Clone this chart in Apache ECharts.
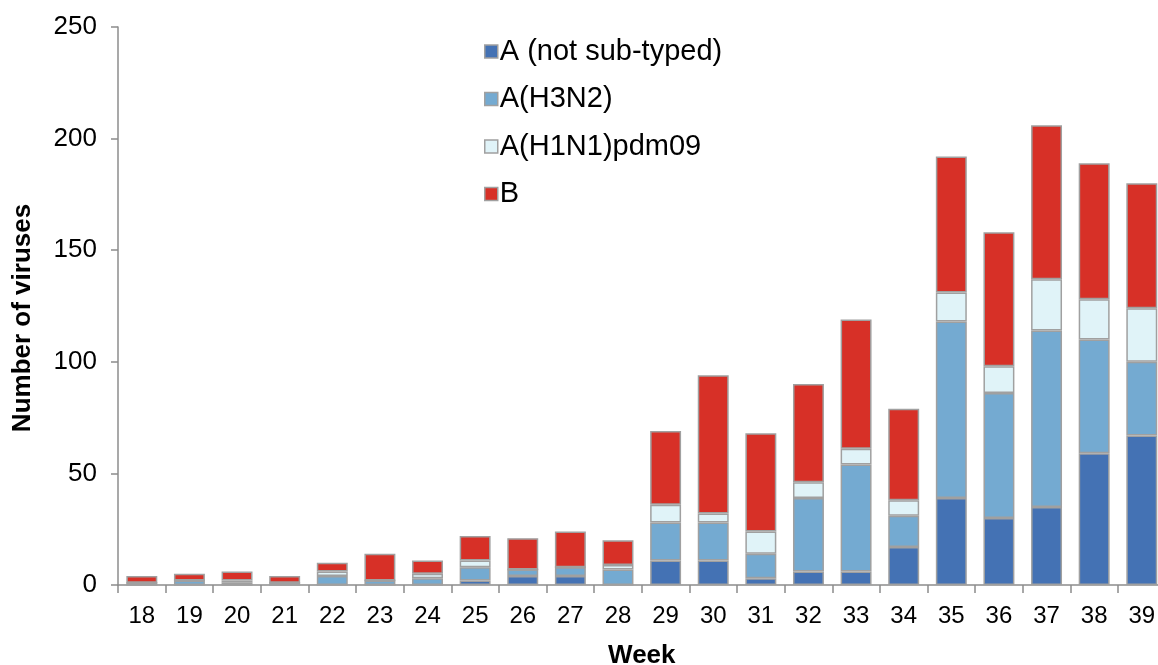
<!DOCTYPE html>
<html><head><meta charset="utf-8">
<script src="https://cdn.jsdelivr.net/npm/echarts@6/dist/echarts.min.js"></script>
<style>html,body{margin:0;padding:0;background:#fff}#c{width:1158px;height:665px}</style>
</head><body><div id="c"></div>
<script>
const weeks = ['18','19','20','21','22','23','24','25','26','27','28','29','30','31','32','33','34','35','36','37','38','39'];
const aNotSubtyped = [0,0,0,0,0,0,0,2,4,4,0,11,11,3,6,6,17,39,30,35,59,67];
const aH3N2 =        [1,2,1,1,4,2,3,6,3,4,7,17,17,11,33,48,14,79,56,79,51,33];
const aH1N1pdm09 =   [0,0,1,0,2,0,2,3,0,0,2,8,4,10,7,7,7,13,12,23,18,24];
const bVirus =       [3,3,4,3,4,12,6,11,14,16,11,33,62,44,44,58,41,61,60,69,61,56];
const yTicks = [0,50,100,150,200,250];

const seriesDefs = [
  {name:'A (not sub-typed)', data:aNotSubtyped, color:'#4472B4'},
  {name:'A(H3N2)', data:aH3N2, color:'#74AAD1'},
  {name:'A(H1N1)pdm09', data:aH1N1pdm09, color:'#E0F3F8'},
  {name:'B', data:bVirus, color:'#D73027'}
];
const font = 'Liberation Sans, Arial, sans-serif';
const chart = echarts.init(document.getElementById('c'), null, {renderer:'canvas'});
chart.setOption({
  animation:false,
  backgroundColor:'#fff',
  grid:{left:118, top:27, bottom:80, width:1047.6, containLabel:false, outerBoundsMode:'none'},
  legend:{
    orient:'vertical', left:479, top:32, itemGap:18.5,
    icon:'rect', itemWidth:13, itemHeight:13,
    textStyle:{fontFamily:font, fontSize:29, color:'#000', padding:[0,0,0,-3]},
    data: seriesDefs.map(s=>({name:s.name, itemStyle:{borderColor:'#A0A0A0', borderWidth:1.5}}))
  },
  xAxis:{
    type:'category', data:weeks,
    name:'Week', nameLocation:'middle', nameGap:58,
    nameTextStyle:{fontFamily:font, fontSize:26, fontWeight:'bold', color:'#000'},
    axisLine:{lineStyle:{color:'#8C8C8C', width:1.5}},
    axisTick:{show:true, length:8, lineStyle:{color:'#8C8C8C', width:1.5}},
    axisLabel:{fontFamily:font, fontSize:24, color:'#000', margin:19}
  },
  yAxis:{
    type:'value', min:0, max:250, interval:50,
    name:'Number of viruses', nameLocation:'middle', nameGap:82,
    nameTextStyle:{fontFamily:font, fontSize:26, fontWeight:'bold', color:'#000', padding:[0,24,0,0]},
    axisLine:{show:true, lineStyle:{color:'#8C8C8C', width:1.5}},
    axisTick:{show:true, length:7, lineStyle:{color:'#8C8C8C', width:1.5}},
    axisLabel:{fontFamily:font, fontSize:26, color:'#000', margin:21,
      formatter:v=>yTicks.includes(v)?String(v):''},
    splitLine:{show:false}
  },
  series: seriesDefs.map(s=>({
    name:s.name, type:'bar', stack:'total', data:s.data,
    barWidth:'65%',
    itemStyle:{color:s.color, borderColor:'#A0A0A0', borderWidth:1.5}
  }))
});
</script></body></html>
